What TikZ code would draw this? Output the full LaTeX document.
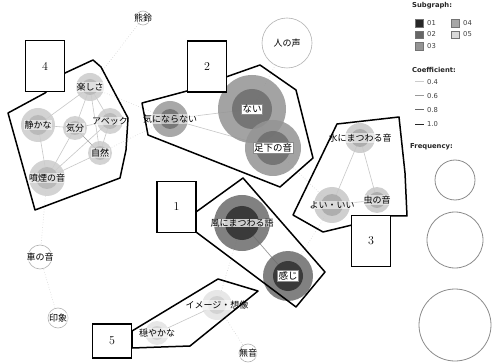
\documentclass[tikz,border=0pt]{standalone}
\usepackage{fontspec}
\newfontfamily\jp{Noto Sans CJK JP}
\newfontfamily\legf{DejaVu Sans}
\begin{document}
\begin{tikzpicture}[x=1pt,y=-1pt,
  edge/.style={draw=black!22, line width=0.6pt},
  weak/.style={draw=black!18, line width=0.6pt, dotted},
  strong/.style={draw=black!40, line width=0.7pt},
  lab/.style={font=\jp\fontsize{9}{10}\selectfont, inner sep=0.5pt, fill=white, fill opacity=0.55, text opacity=1},
  labbox/.style={font=\jp\fontsize{9.5}{10}\selectfont, inner sep=1pt, fill=white, draw=black!45, line width=0.4pt},
  hull/.style={draw=black, line width=1.5pt, line join=round},
  numbox/.style={draw=black, line width=1.1pt, fill=white, minimum width=39pt, minimum height=51pt, font=\fontsize{12}{13}\selectfont},
  leg/.style={font=\legf\fontsize{6.8}{7.5}\selectfont, anchor=west, inner sep=0pt, text=black!75},
  legb/.style={font=\legf\bfseries\fontsize{6.8}{7.5}\selectfont, anchor=west, inner sep=0pt, text=black!85}
]
\useasboundingbox (0,0) rectangle (492,363);
\fill[white] (0,0) rectangle (492,363);

% node centres
\coordinate (kumasuzu) at (143,18);
\coordinate (hito) at (287,43);
\coordinate (tano) at (90,87);
\coordinate (shizuka) at (38,125);
\coordinate (kibun) at (75,128);
\coordinate (abekku) at (110,121);
\coordinate (shizen) at (100,153);
\coordinate (funen) at (47,178);
\coordinate (kini) at (170,119);
\coordinate (nai) at (252,109);
\coordinate (ashi) at (273,148);
\coordinate (mizu) at (360,138);
\coordinate (yoi) at (332,205);
\coordinate (mushi) at (377,200);
\coordinate (kaze) at (242,223);
\coordinate (kanji) at (288,276);
\coordinate (image) at (217,305);
\coordinate (odayaka) at (157,333);
\coordinate (muon) at (248,353);
\coordinate (kuruma) at (40,257);
\coordinate (inshou) at (58,318);

% edges
\draw[weak] (kumasuzu) -- (tano);
\draw[weak] (tano) -- (kini);
\draw[weak] (shizen) -- (kini);
\draw[edge] (tano) -- (shizuka);
\draw[edge] (tano) -- (kibun);
\draw[edge] (tano) -- (abekku);
\draw[edge] (tano) -- (shizen);
\draw[edge] (shizuka) -- (kibun);
\draw[edge] (shizuka) -- (funen);
\draw[strong] (kibun) -- (shizen);
\draw[edge] (kibun) -- (abekku);
\draw[edge] (kibun) -- (funen);
\draw[edge] (abekku) -- (shizen);
\draw[edge] (abekku) -- (funen);
\draw[edge] (shizen) -- (funen);
\draw[edge] (kini) -- (nai);
\draw[edge] (kini) -- (ashi);
\draw[edge] (nai) -- (ashi);
\draw[weak] (nai) -- (hito);
\draw[weak] (ashi) -- (yoi);
\draw[edge] (mizu) -- (yoi);
\draw[edge] (mizu) -- (mushi);
\draw[edge] (yoi) -- (mushi);
\draw[weak] (yoi) -- (kanji);
\draw[strong] (kaze) -- (kanji);
\draw[weak] (kaze) -- (image);
\draw[edge] (image) -- (odayaka);
\draw[weak] (image) -- (muon);
\draw[weak] (funen) -- (kuruma);
\draw[weak] (kuruma) -- (inshou);

% circles
\newcommand{\ring}[5]{% centre, outer r, inner r, outer colour, inner colour
  \fill[#4, fill opacity=0.85] (#1) circle (#2);
  \fill[#5, fill opacity=0.9] (#1) circle (#3);}
\newcommand{\plain}[2]{\draw[black!30, line width=0.6pt, fill=white] (#1) circle (#2);}

\plain{kumasuzu}{7}
\plain{hito}{25}
\plain{muon}{9}
\plain{kuruma}{12}
\plain{inshou}{10}

\ring{tano}{14}{8}{black!20}{black!28}
\ring{shizuka}{17}{10}{black!20}{black!28}
\ring{kibun}{12}{7}{black!20}{black!28}
\ring{abekku}{13}{8}{black!20}{black!28}
\ring{shizen}{12}{7}{black!20}{black!28}
\ring{funen}{18}{11}{black!20}{black!28}

\ring{kini}{18}{10}{black!40}{black!55}
\ring{nai}{34}{20}{black!42}{black!56}
\ring{ashi}{28}{17}{black!42}{black!56}

\ring{mizu}{15}{9}{black!22}{black!33}
\ring{yoi}{18}{11}{black!22}{black!33}
\ring{mushi}{13}{8}{black!22}{black!33}

\ring{kaze}{28}{17}{black!58}{black!80}
\ring{kanji}{25}{15}{black!58}{black!80}

\ring{image}{15}{9}{black!11}{black!18}
\ring{odayaka}{12}{7}{black!11}{black!18}

% labels
\node[lab] (l-kumasuzu) at (kumasuzu) {熊鈴};
\node[lab] (l-hito) at (hito) {人の声};
\node[lab] (l-tano) at (tano) {楽しさ};
\node[lab] (l-shizuka) at (shizuka) {静かな};
\node[lab] (l-kibun) at (kibun) {気分};
\node[lab] (l-abekku) at (abekku) {アベック};
\node[lab] (l-shizen) at (shizen) {自然};
\node[lab] (l-funen) at (funen) {噴煙の音};
\node[lab] (l-kini) at (kini) {気にならない};
\node[labbox] (l-nai) at (nai) {ない};
\node[labbox] (l-ashi) at (ashi) {足下の音};
\node[lab] (l-mizu) at (mizu) {水にまつわる音};
\node[lab] (l-yoi) at (yoi) {よい・いい};
\node[lab] (l-mushi) at (mushi) {虫の音};
\node[lab, fill opacity=0.75] (l-kaze) at (kaze) {風にまつわる語};
\node[labbox] (l-kanji) at (kanji) {感じ};
\node[lab] (l-image) at (image) {イメージ・想像};
\node[lab] (l-odayaka) at (odayaka) {穏やかな};
\node[lab] (l-muon) at (muon) {無音};
\node[lab] (l-kuruma) at (kuruma) {車の音};
\node[lab] (l-inshou) at (inshou) {印象};

% hulls
\draw[hull] (8,113) -- (45,93) -- (65,73) -- (93,60) -- (101,67) -- (128,118) -- (126,150) -- (120,178) -- (35,210) -- cycle;
\draw[hull] (142,103) -- (187,91) -- (226,77) -- (260,65) -- (296,90) -- (313,158) -- (280,187) -- (148,135) -- cycle;
\draw[hull] (337,124) -- (399,117) -- (405,173) -- (407,216) -- (390,216) -- (352,225) -- (323,232) -- (293,215) -- cycle;
\draw[hull] (196,212) -- (243,178) -- (325,272) -- (296,307) -- (196,232) -- cycle;
\draw[hull] (132,331) -- (218,279) -- (258,291) -- (190,346) -- (132,348) -- cycle;

% number boxes
\node[numbox] (b4) at (45,66) {4};
\node[numbox] (b2) at (207,66.5) {2};
\node[numbox] (b3) at (371,241) {3};
\node[numbox] (b1) at (176.5,207) {1};
\node[numbox, minimum height=34pt] (b5) at (112,341) {5};

% legend
\node[legb] (lg-sub) at (412,6) {Subgraph:};
\node[draw=black!55, fill=black!85, minimum size=7.5pt, inner sep=0pt] (sq1) at (419,23) {};
\node[leg] (t1) at (427,23) {01};
\node[draw=black!55, fill=black!60, minimum size=7.5pt, inner sep=0pt] (sq2) at (419,34.5) {};
\node[leg] (t2) at (427,34.5) {02};
\node[draw=black!55, fill=black!42, minimum size=7.5pt, inner sep=0pt] (sq3) at (419,46) {};
\node[leg] (t3) at (427,46) {03};
\node[draw=black!55, fill=black!35, minimum size=7.5pt, inner sep=0pt] (sq4) at (455,23) {};
\node[leg] (t4) at (463,23) {04};
\node[draw=black!55, fill=black!15, minimum size=7.5pt, inner sep=0pt] (sq5) at (455,34.5) {};
\node[leg] (t5) at (463,34.5) {05};

\node[legb] (lg-coef) at (412,70) {Coefficient:};
\coordinate (c4a) at (415,82); \coordinate (c4b) at (424,82);
\coordinate (c6a) at (415,96); \coordinate (c6b) at (424,96);
\coordinate (c8a) at (415,110); \coordinate (c8b) at (424,110);
\coordinate (c10a) at (415,124.5); \coordinate (c10b) at (424,124.5);
\draw[black!20, line width=1pt] (c4a) -- (c4b);
\draw[black!40, line width=1pt] (c6a) -- (c6b);
\draw[black!60, line width=1pt] (c8a) -- (c8b);
\draw[black!85, line width=1pt] (c10a) -- (c10b);
\node[leg] (v4) at (427,82) {0.4};
\node[leg] (v6) at (427,96) {0.6};
\node[leg] (v8) at (427,110) {0.8};
\node[leg] (v10) at (427,124.5) {1.0};

\node[legb] (lg-freq) at (410,147) {Frequency:};
\node[draw=black!45, line width=0.8pt, circle, minimum size=40pt, inner sep=0pt] (f1) at (455,180) {};
\node[draw=black!45, line width=0.8pt, circle, minimum size=56pt, inner sep=0pt] (f2) at (455,240) {};
\node[draw=black!45, line width=0.8pt, circle, minimum size=72pt, inner sep=0pt] (f3) at (455,325) {};
\end{tikzpicture}
\end{document}
